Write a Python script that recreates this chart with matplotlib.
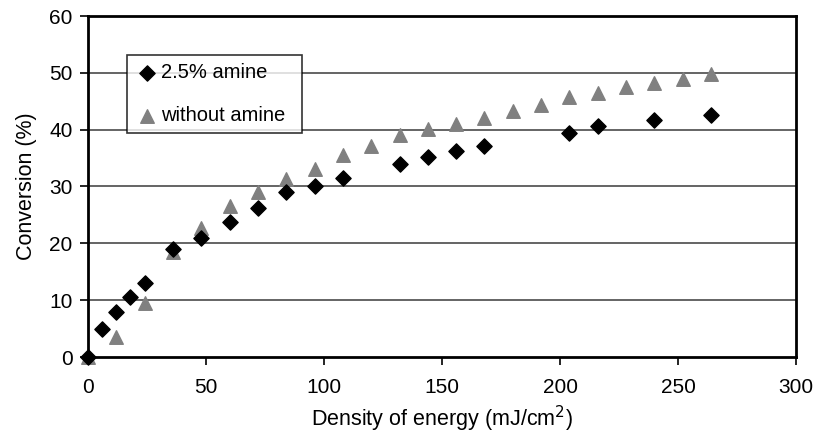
import matplotlib
matplotlib.use("Agg")
import matplotlib.pyplot as plt

amine_x = [0, 6, 12, 18, 24, 36, 48, 60, 72, 84, 96, 108, 132, 144, 156, 168, 204, 216, 240, 264]
amine_y = [0, 5, 8, 10.5, 13, 19, 21, 23.7, 26.3, 29, 30, 31.5, 34, 35.2, 36.2, 37.2, 39.5, 40.7, 41.7, 42.5]
noam_x = [0, 12, 24, 36, 48, 60, 72, 84, 96, 108, 120, 132, 144, 156, 168, 180, 192, 204, 216, 228, 240, 252, 264]
noam_y = [0, 3.5, 9.5, 18.5, 22.7, 26.5, 29, 31.3, 33, 35.5, 37.2, 39, 40.2, 41, 42, 43.2, 44.3, 45.7, 46.5, 47.5, 48.2, 49, 49.8]
xticks = [0, 50, 100, 150, 200, 250, 300]
yticks = [0, 10, 20, 30, 40, 50, 60]

plt.rcParams['font.family'] = ['Liberation Sans', 'DejaVu Sans']
fig = plt.figure(figsize=(8.15, 4.36), dpi=100)
ax = fig.add_axes([88/815, 1-357/436, (796-88)/815, (357-16)/436])

for y in yticks[1:-1]:
    ax.axhline(y, color='#3a3a3a', lw=1.1, zorder=1)

ax.scatter(amine_x, amine_y, marker='D', s=60, color='black', label='2.5% amine', zorder=3, clip_on=False)
ax.scatter(noam_x, noam_y, marker='^', s=95, color='#808080', label='without amine', zorder=2, clip_on=False)

ax.set_xlim(0, 300)
ax.set_ylim(0, 60)
ax.set_xticks(xticks)
ax.set_yticks(yticks)
ax.tick_params(axis='both', labelsize=15, direction='out', length=6, width=1.2, color='black')
ax.tick_params(axis='x', pad=9)
ax.tick_params(axis='y', pad=5)
for s in ax.spines.values():
    s.set_linewidth(2)
    s.set_color('black')

ax.set_xlabel('Density of energy (mJ/cm$^2$)', fontsize=15.5, labelpad=5)
ax.set_ylabel('Conversion (%)', fontsize=15.5, labelpad=9)

leg = ax.legend(loc='upper left', bbox_to_anchor=(0.055, 0.5, 0.247, 0.386), mode='expand',
                fontsize=14.5, frameon=True, fancybox=False, edgecolor='black',
                handletextpad=0.1, handlelength=1.2, borderpad=0.4,
                labelspacing=1.2, borderaxespad=0)
leg.get_frame().set_linewidth(1.2)
leg.set_zorder(5)

fig.savefig('out.png', dpi=100)
